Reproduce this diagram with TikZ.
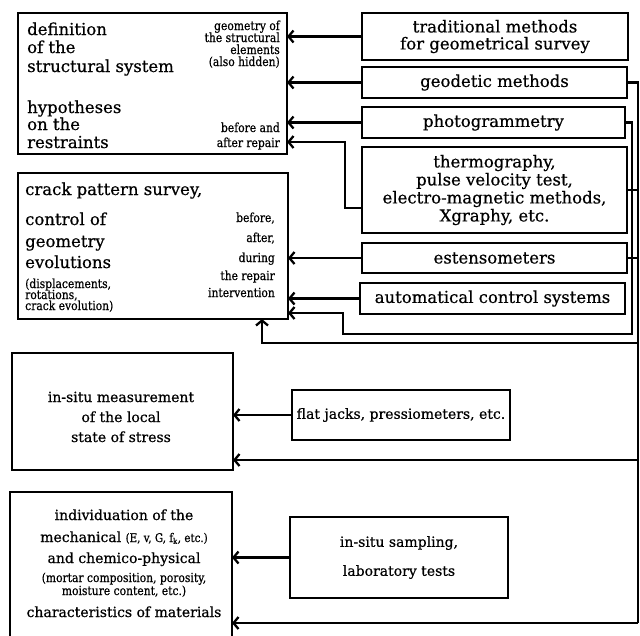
\documentclass[tikz,border=0pt]{standalone}
\usepackage{fontspec}
\setmainfont{DejaVu Serif}[FakeBold=0.6]
\newfontfamily\cond{DejaVu Serif}[FakeStretch=0.86,FakeBold=0.6]
\usetikzlibrary{arrows.meta,calc}
\begin{document}
\begin{tikzpicture}[x=1pt,y=-1pt,
  box/.style={draw, line width=2.6pt, inner sep=0pt, outer sep=0pt, align=center},
  conn/.style={line width=2.3pt},
  arr/.style={conn, -{Straight Barb[length=5pt,width=12pt]}},
  big/.style={font=\fontsize{16.5}{18}\selectfont, inner sep=0pt},
  mid/.style={font=\fontsize{14}{20}\selectfont, inner sep=0pt},
  sml/.style={font=\cond\fontsize{12.5}{12}\selectfont, inner sep=0pt}
]
\useasboundingbox[fill=white] (0,0) rectangle (640,635);

% boxes
\node[box, minimum width=269pt, minimum height=141pt] (A) at (152.5,83.5) {};
\node[box, minimum width=270pt, minimum height=146pt] (B) at (153,246) {};
\node[box, font=\fontsize{16.5}{17}\selectfont, minimum width=266pt, minimum height=47pt] (trad) at (495,36.5) {traditional methods\\for geometrical survey};
\node[box, big, minimum width=265pt, minimum height=31pt] (geod) at (494.5,82.5) {geodetic methods};
\node[box, big, minimum width=263pt, minimum height=31pt] (photo) at (493.5,122.5) {photogrammetry};
\node[box, big, minimum width=265pt, minimum height=86pt] (therm) at (494.5,190) {thermography,\\pulse velocity test,\\electro-magnetic methods,\\Xgraphy, etc.};
\node[box, big, minimum width=265pt, minimum height=30pt] (esten) at (494.5,258) {estensometers};
\node[box, big, minimum width=265pt, minimum height=31pt] (auto) at (492.5,298.5) {automatical control systems};
\node[box, minimum width=221pt, minimum height=117pt] (meas) at (122.5,411.5) {};
\node[box, mid, minimum width=218pt, minimum height=50pt] (flat) at (401,415) {flat jacks, pressiometers, etc.};
\node[box, minimum width=222pt, minimum height=153pt] (indiv) at (121,568.5) {};
\node[box, mid, minimum width=218pt, minimum height=81pt] (samp) at (399,557.5) {in-situ sampling,\\[9pt]laboratory tests};

% texts in A
\node[big, anchor=base west] (a1) at (27,35) {definition};
\node[big, anchor=base west] (a2) at (27,53) {of the};
\node[big, anchor=base west] (a3) at (27,72) {structural system};
\node[big, anchor=base west] (a4) at (27,113) {hypotheses};
\node[big, anchor=base west] (a5) at (27,130) {on the};
\node[big, anchor=base west] (a6) at (27,148) {restraints};
\node[sml, anchor=base east] (a7) at (280,30) {geometry of};
\node[sml, anchor=base east] (a8) at (280,42) {the structural};
\node[sml, anchor=base east] (a9) at (280,54) {elements};
\node[sml, anchor=base east] (a10) at (280,66) {(also hidden)};
\node[sml, anchor=base east] (a11) at (280,132) {before and};
\node[sml, anchor=base east] (a12) at (280,147) {after repair};

% texts in B
\node[big, anchor=base west] (b1) at (25,195) {crack pattern survey,};
\node[big, anchor=base west] (b2) at (25,225) {control of};
\node[big, anchor=base west] (b3) at (25,247) {geometry};
\node[big, anchor=base west] (b4) at (25,268) {evolutions};
\node[sml, anchor=base west] (b5) at (25,288) {(displacements,};
\node[sml, anchor=base west] (b6) at (25,299) {rotations,};
\node[sml, anchor=base west] (b7) at (25,310) {crack evolution)};
\node[sml, anchor=base east] (b8) at (275,222) {before,};
\node[sml, anchor=base east] (b9) at (275,242) {after,};
\node[sml, anchor=base east] (b10) at (275,262) {during};
\node[sml, anchor=base east] (b11) at (275,280) {the repair};
\node[sml, anchor=base east] (b12) at (275,297) {intervention};

% texts in meas
\node[mid, anchor=base] (m1) at (121,402) {in-situ measurement};
\node[mid, anchor=base] (m2) at (121,422) {of the local};
\node[mid, anchor=base] (m3) at (121,442) {state of stress};

% texts in indiv
\node[mid, anchor=base] (i1) at (124,520) {individuation of the};
\node[mid, anchor=base] (i2) at (124,542) {mechanical {\cond\fontsize{12}{12}\selectfont (E, v, G, f\textsubscript{k}, etc.)}};
\node[mid, anchor=base] (i3) at (124,563) {and chemico-physical};
\node[sml, anchor=base] (i4) at (124,582) {(mortar composition, porosity,};
\node[sml, anchor=base] (i5) at (124,595) {moisture content, etc.)};
\node[mid, anchor=base] (i6) at (124,617) {characteristics of materials};

% connectors into A
\draw[arr] (trad.west) -- (trad.west -| A.east);
\draw[arr] (geod.west) -- (geod.west -| A.east);
\draw[arr] (photo.west) -- (photo.west -| A.east);
\coordinate (tA) at ($(therm.west)+(0,18)$);
\draw[arr] (tA) -- (345,208) -- (345,142) -- (A.east |- 0,142);

% connectors into B
\draw[arr] (esten.west) -- (esten.west -| B.east);
\draw[arr] (auto.west) -- (auto.west -| B.east);
\draw[arr] (photo.east) -- (632,122.5) -- (632,334) -- (343,334) -- (343,313) -- (B.east |- 0,313);

% outer collector
\coordinate (R1) at (638,343);
\coordinate (R2) at (638,460);
\coordinate (R3) at (638,623);
\draw[conn] (geod.east) -- (638,82.5) -- (R3);
\draw[conn] (therm.east) -- (therm.east -| R1);
\draw[conn] (esten.east) -- (esten.east -| R1);
\draw[arr] (R1) -- (262,343) -- (262,343 |- B.south);
\draw[arr] (R2) -- (R2 -| meas.east);
\draw[arr] (R3) -- (R3 -| indiv.east);

% lower connectors
\draw[arr] (flat.west) -- (flat.west -| meas.east);
\draw[arr] (samp.west) -- (samp.west -| indiv.east);
\end{tikzpicture}
\end{document}
